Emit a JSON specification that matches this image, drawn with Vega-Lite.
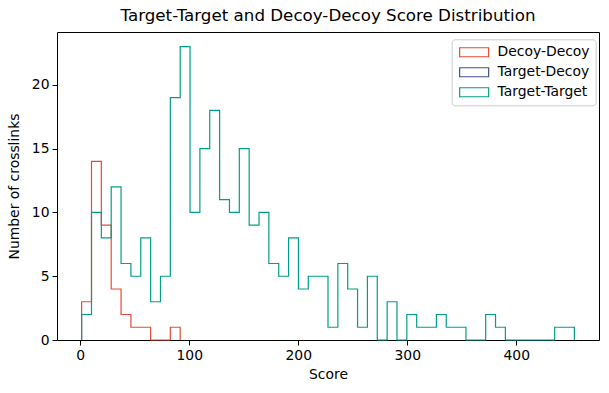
{
  "$schema": "https://vega.github.io/schema/vega-lite/v6.json",
  "width": 542,
  "height": 308,
  "autosize": {"type": "none"},
  "padding": {"left": 57, "top": 32, "right": 10, "bottom": 53},
  "background": "white",
  "title": {"text": "Target-Target and Decoy-Decoy Score Distribution", "font": "DejaVu Sans", "fontSize": 16.7, "fontWeight": "normal", "color": "black", "anchor": "middle", "offset": 7},
  "config": {
    "view": {"stroke": "black", "strokeWidth": 1},
    "axis": {"domain": false, "grid": false, "tickColor": "black", "tickSize": 5, "tickWidth": 1, "labelColor": "black", "labelFont": "DejaVu Sans", "labelFontSize": 13.9, "titleFont": "DejaVu Sans", "titleFontSize": 13.9, "titleFontWeight": "normal", "titleColor": "black", "labelPadding": 3},
    "legend": {"labelFont": "DejaVu Sans", "labelFontSize": 13.9, "labelColor": "black"}
  },
  "data": {"values": [
    {"s": "Decoy-Decoy", "o": 0, "x": 1.3, "y": 0},
    {"s": "Decoy-Decoy", "o": 1, "x": 1.3, "y": 3},
    {"s": "Decoy-Decoy", "o": 2, "x": 10.34, "y": 14},
    {"s": "Decoy-Decoy", "o": 3, "x": 19.38, "y": 9},
    {"s": "Decoy-Decoy", "o": 4, "x": 28.42, "y": 4},
    {"s": "Decoy-Decoy", "o": 5, "x": 37.46, "y": 2},
    {"s": "Decoy-Decoy", "o": 6, "x": 46.5, "y": 1},
    {"s": "Decoy-Decoy", "o": 7, "x": 55.54, "y": 1},
    {"s": "Decoy-Decoy", "o": 8, "x": 64.58, "y": 0},
    {"s": "Decoy-Decoy", "o": 9, "x": 73.62, "y": 0},
    {"s": "Decoy-Decoy", "o": 10, "x": 82.66, "y": 1},
    {"s": "Decoy-Decoy", "o": 11, "x": 91.7, "y": 0},
    {"s": "Target-Target", "o": 0, "x": 1.3, "y": 0},
    {"s": "Target-Target", "o": 1, "x": 1.3, "y": 2},
    {"s": "Target-Target", "o": 2, "x": 10.34, "y": 10},
    {"s": "Target-Target", "o": 3, "x": 19.38, "y": 8},
    {"s": "Target-Target", "o": 4, "x": 28.42, "y": 12},
    {"s": "Target-Target", "o": 5, "x": 37.46, "y": 6},
    {"s": "Target-Target", "o": 6, "x": 46.5, "y": 5},
    {"s": "Target-Target", "o": 7, "x": 55.54, "y": 8},
    {"s": "Target-Target", "o": 8, "x": 64.58, "y": 3},
    {"s": "Target-Target", "o": 9, "x": 73.62, "y": 5},
    {"s": "Target-Target", "o": 10, "x": 82.66, "y": 19},
    {"s": "Target-Target", "o": 11, "x": 91.7, "y": 23},
    {"s": "Target-Target", "o": 12, "x": 100.74, "y": 10},
    {"s": "Target-Target", "o": 13, "x": 109.78, "y": 15},
    {"s": "Target-Target", "o": 14, "x": 118.82, "y": 18},
    {"s": "Target-Target", "o": 15, "x": 127.86, "y": 11},
    {"s": "Target-Target", "o": 16, "x": 136.9, "y": 10},
    {"s": "Target-Target", "o": 17, "x": 145.94, "y": 15},
    {"s": "Target-Target", "o": 18, "x": 154.98, "y": 9},
    {"s": "Target-Target", "o": 19, "x": 164.02, "y": 10},
    {"s": "Target-Target", "o": 20, "x": 173.06, "y": 6},
    {"s": "Target-Target", "o": 21, "x": 182.1, "y": 5},
    {"s": "Target-Target", "o": 22, "x": 191.14, "y": 8},
    {"s": "Target-Target", "o": 23, "x": 200.18, "y": 4},
    {"s": "Target-Target", "o": 24, "x": 209.22, "y": 5},
    {"s": "Target-Target", "o": 25, "x": 218.26, "y": 5},
    {"s": "Target-Target", "o": 26, "x": 227.3, "y": 1},
    {"s": "Target-Target", "o": 27, "x": 236.34, "y": 6},
    {"s": "Target-Target", "o": 28, "x": 245.38, "y": 4},
    {"s": "Target-Target", "o": 29, "x": 254.42, "y": 1},
    {"s": "Target-Target", "o": 30, "x": 263.46, "y": 5},
    {"s": "Target-Target", "o": 31, "x": 272.5, "y": 0},
    {"s": "Target-Target", "o": 32, "x": 281.54, "y": 3},
    {"s": "Target-Target", "o": 33, "x": 290.58, "y": 0},
    {"s": "Target-Target", "o": 34, "x": 299.62, "y": 2},
    {"s": "Target-Target", "o": 35, "x": 308.66, "y": 1},
    {"s": "Target-Target", "o": 36, "x": 317.7, "y": 1},
    {"s": "Target-Target", "o": 37, "x": 326.74, "y": 2},
    {"s": "Target-Target", "o": 38, "x": 335.78, "y": 1},
    {"s": "Target-Target", "o": 39, "x": 344.82, "y": 1},
    {"s": "Target-Target", "o": 40, "x": 353.86, "y": 0},
    {"s": "Target-Target", "o": 41, "x": 362.9, "y": 0},
    {"s": "Target-Target", "o": 42, "x": 371.94, "y": 2},
    {"s": "Target-Target", "o": 43, "x": 380.98, "y": 1},
    {"s": "Target-Target", "o": 44, "x": 390.02, "y": 0},
    {"s": "Target-Target", "o": 45, "x": 399.06, "y": 0},
    {"s": "Target-Target", "o": 46, "x": 408.1, "y": 0},
    {"s": "Target-Target", "o": 47, "x": 417.14, "y": 0},
    {"s": "Target-Target", "o": 48, "x": 426.18, "y": 0},
    {"s": "Target-Target", "o": 49, "x": 435.22, "y": 1},
    {"s": "Target-Target", "o": 50, "x": 444.26, "y": 1},
    {"s": "Target-Target", "o": 51, "x": 453.3, "y": 1},
    {"s": "Target-Target", "o": 52, "x": 453.3, "y": 0}
  ]},
  "mark": {"type": "line", "interpolate": "step-after", "strokeWidth": 1.2},
  "encoding": {
    "x": {"field": "x", "type": "quantitative", "title": "Score", "scale": {"domain": [-21.3, 475.9], "nice": false, "zero": false}, "axis": {"values": [0, 100, 200, 300, 400], "titlePadding": 6}},
    "y": {"field": "y", "type": "quantitative", "title": "Number of crosslinks", "scale": {"domain": [0, 24.15], "nice": false}, "axis": {"values": [0, 5, 10, 15, 20], "titlePadding": 10}},
    "order": {"field": "o", "type": "quantitative"},
    "color": {
      "field": "s", "type": "nominal",
      "scale": {"domain": ["Decoy-Decoy", "Target-Decoy", "Target-Target"], "range": ["#E64B35", "#3C5488", "#00A087"]},
      "legend": {
        "title": null, "orient": "none", "legendX": 394.7, "legendY": 7.3,
        "symbolType": "M-1,-0.9L4.8,-0.9L4.8,0.9L-1,0.9Z",
        "symbolSize": 100, "symbolStrokeWidth": 1.2, "symbolFillColor": "transparent",
        "labelOffset": 26, "rowPadding": 5, "padding": 6,
        "fillColor": "white", "strokeColor": "#cccccc", "cornerRadius": 3,
        "encode": {"symbols": {"update": {"fill": {"value": "transparent"}, "opacity": {"value": 1}}}}
      }
    }
  }
}
